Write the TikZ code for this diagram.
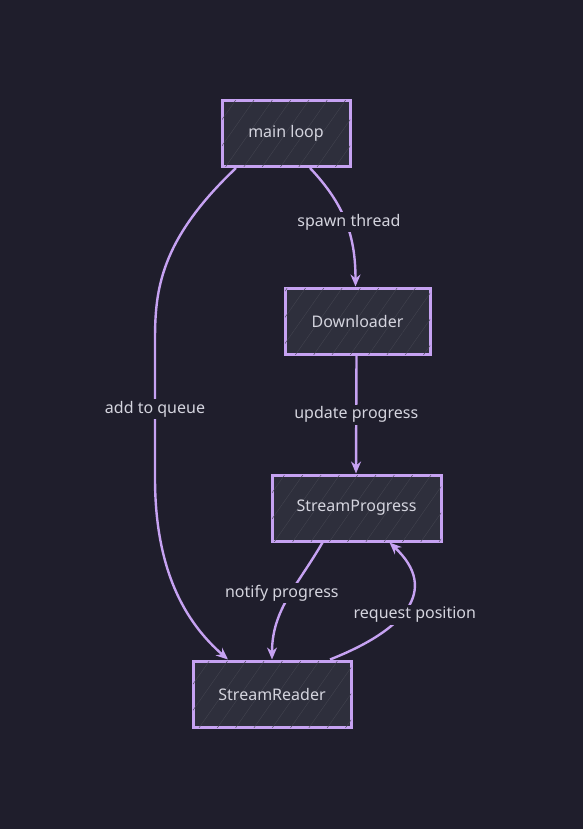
\documentclass[tikz,border=0pt]{standalone}
\usepackage{fontspec}
\setmainfont{Noto Sans}
\usetikzlibrary{arrows.meta,patterns.meta}
\definecolor{bgdark}{HTML}{1F1E2C}
\definecolor{boxfill}{HTML}{2E2F3C}
\definecolor{hatch}{HTML}{42434F}
\definecolor{lilac}{HTML}{C6A2F2}
\definecolor{softtext}{HTML}{D4D4DE}
\tikzset{
  box/.style={draw=lilac, line width=3pt, fill=boxfill, rectangle, minimum height=66pt,
    text=softtext, font=\fontsize{16}{19}\selectfont,
    postaction={pattern={Lines[angle=55,distance=15pt,line width=0.4pt]}, pattern color=hatch}},
  flow/.style={draw=lilac, line width=2.4pt, -{Stealth[length=12pt,width=10pt]}},
  lbl/.style={fill=bgdark, text=softtext, font=\fontsize{16}{19}\selectfont, inner sep=2pt}
}
\begin{document}
\begin{tikzpicture}[x=1pt,y=1pt]
  \fill[bgdark] (0,0) rectangle (583,-829);
  \useasboundingbox (0,0) rectangle (583,-829);

  \node (mainloop) [box, minimum width=128pt] at (286,-133.5) {main loop};
  \node (downloader) [box, minimum width=145pt] at (357.5,-321) {Downloader};
  \node (progress) [box, minimum width=169pt] at (356.5,-508) {StreamProgress};
  \node (reader) [box, minimum width=158pt] at (272,-694) {StreamReader};

  \draw[flow] ([xshift=24pt]mainloop.south) .. controls +(35,-37) and +(0,50) ..
    node[lbl, pos=0.5, xshift=3pt] {spawn thread} ([xshift=-2pt]downloader.north);
  \draw[flow] ([xshift=-1pt]downloader.south) --
    node[lbl] {update progress} ([xshift=-0.5pt]progress.north);
  \draw[flow] ([xshift=-50pt]mainloop.south) .. controls (160,-240) and (155,-290) .. (155,-340)
    -- node[lbl, pos=0.5] {add to queue} (155,-478)
    .. controls (155,-570) and (185,-622) .. ([xshift=-44pt]reader.north);
  \draw[flow] ([xshift=-34pt]progress.south) to[out=-120,in=90]
    node[lbl, pos=0.45, xshift=-9pt] {notify progress} (reader.north);
  \draw[flow] ([xshift=58pt]reader.north) .. controls (405,-630) and (440,-590) ..
    node[lbl, pos=0.5, xshift=8pt, yshift=-7pt] {request position} ([xshift=33pt]progress.south);
\end{tikzpicture}
\end{document}
